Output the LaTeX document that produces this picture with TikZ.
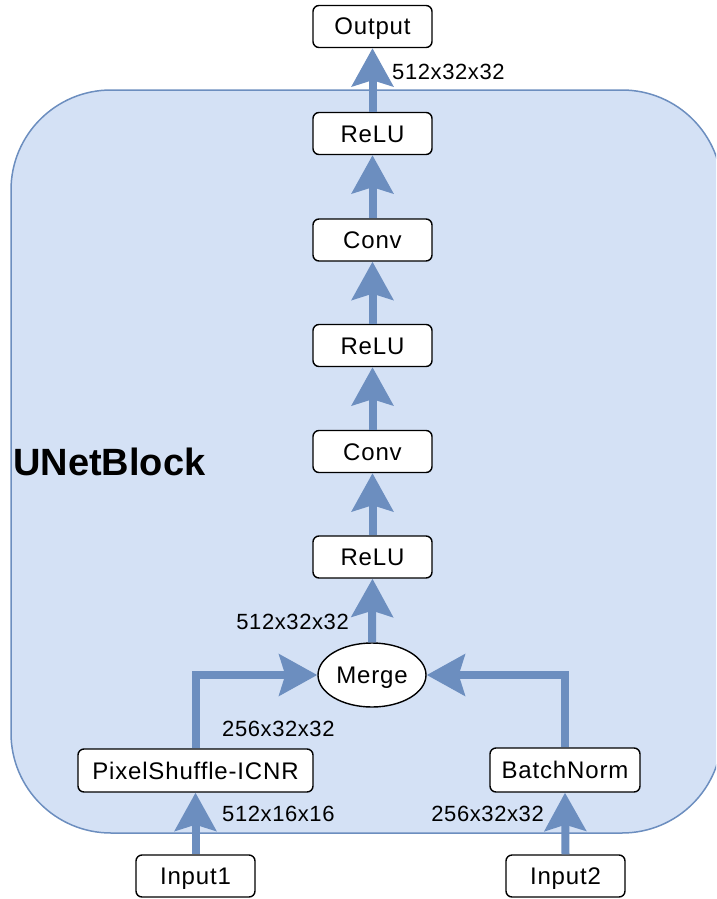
\documentclass[tikz,border=0pt]{standalone}
\usepackage{fontspec}
\setmainfont{Liberation Sans}
\newfontfamily\layerfont[LetterSpace=3.5]{Liberation Sans}
\newfontfamily\dimfont[LetterSpace=2.7]{Liberation Sans}
\usetikzlibrary{arrows.meta,shapes.geometric}

\definecolor{blockfill}{HTML}{D4E1F5}
\definecolor{flowblue}{HTML}{6C8EBF}

\tikzset{
  layer/.style={draw=black, line width=1.4pt, fill=white, rounded corners=6pt,
    minimum width=119pt, minimum height=42pt, inner sep=0pt,
    text height=17pt, text depth=0pt,
    font=\layerfont\fontsize{24}{28}\selectfont},
  mergenode/.style={ellipse, draw=black, line width=1.4pt, fill=white,
    minimum width=108pt, minimum height=64pt, inner sep=0pt,
    text height=17pt, text depth=0pt,
    font=\layerfont\fontsize{24}{28}\selectfont},
  flow/.style={draw=flowblue, line width=8pt,
    -{Stealth[length=38pt, width=41pt, inset=6pt, fill=flowblue]}},
  dimlabel/.style={inner sep=0pt, text height=16pt, text depth=0pt,
    font=\dimfont\fontsize{22}{26}\selectfont},
}

\begin{document}
\begin{tikzpicture}[x=1pt, y=-1pt]
\useasboundingbox (0,0) rectangle (716,899);
\clip (0,0) rectangle (716,899);

% container of the block
\filldraw[fill=blockfill, draw=flowblue, line width=1.5pt, rounded corners=100pt]
  (11,90) rectangle (722,833);
\node[anchor=west, inner sep=0pt, font=\fontsize{38}{44}\selectfont\bfseries] (title) at (13,462) {UNetBlock};

% layers
\node[layer] (out)   at (372.5,26.5)  {Output};
\node[layer] (relua) at (372.5,133.5) {ReLU};
\node[layer] (conva) at (372.5,240)   {Conv};
\node[layer] (relub) at (372.5,345.5) {ReLU};
\node[layer] (convb) at (372.5,451.5) {Conv};
\node[layer] (reluc) at (372.5,557)   {ReLU};
\node[mergenode] (merge) at (372,675) {Merge};
\node[layer, minimum width=235pt, minimum height=43pt] (pix) at (195.5,770.5) {PixelShuffle-ICNR};
\node[layer, minimum width=150pt, minimum height=44pt] (bn) at (565,770) {BatchNorm};
\node[layer] (inone) at (195.5,876) {Input1};
\node[layer] (intwo) at (565.5,876) {Input2};

% data flow
\draw[flow] (inone.north) -- (pix.south);
\draw[flow] (intwo.north) -- (bn.south);
\draw[flow] (pix.north) |- (merge.west);
\draw[flow] (bn.north) |- (merge.east);
\draw[flow] (merge.north) -- (reluc.south);
\draw[flow] (reluc.north) -- (convb.south);
\draw[flow] (convb.north) -- (relub.south);
\draw[flow] (relub.north) -- (conva.south);
\draw[flow] (conva.north) -- (relua.south);
\draw[flow] (relua.north) -- (out.south);

% tensor shapes
\node[dimlabel, anchor=west] (dout) at (392,71) {512x32x32};
\node[dimlabel, anchor=east] (dmerge) at (349,621) {512x32x32};
\node[dimlabel, anchor=west] (dpix) at (222,728) {256x32x32};
\node[dimlabel, anchor=west] (dinone) at (222,813) {512x16x16};
\node[dimlabel, anchor=east] (dintwo) at (544,813) {256x32x32};
\end{tikzpicture}
\end{document}
